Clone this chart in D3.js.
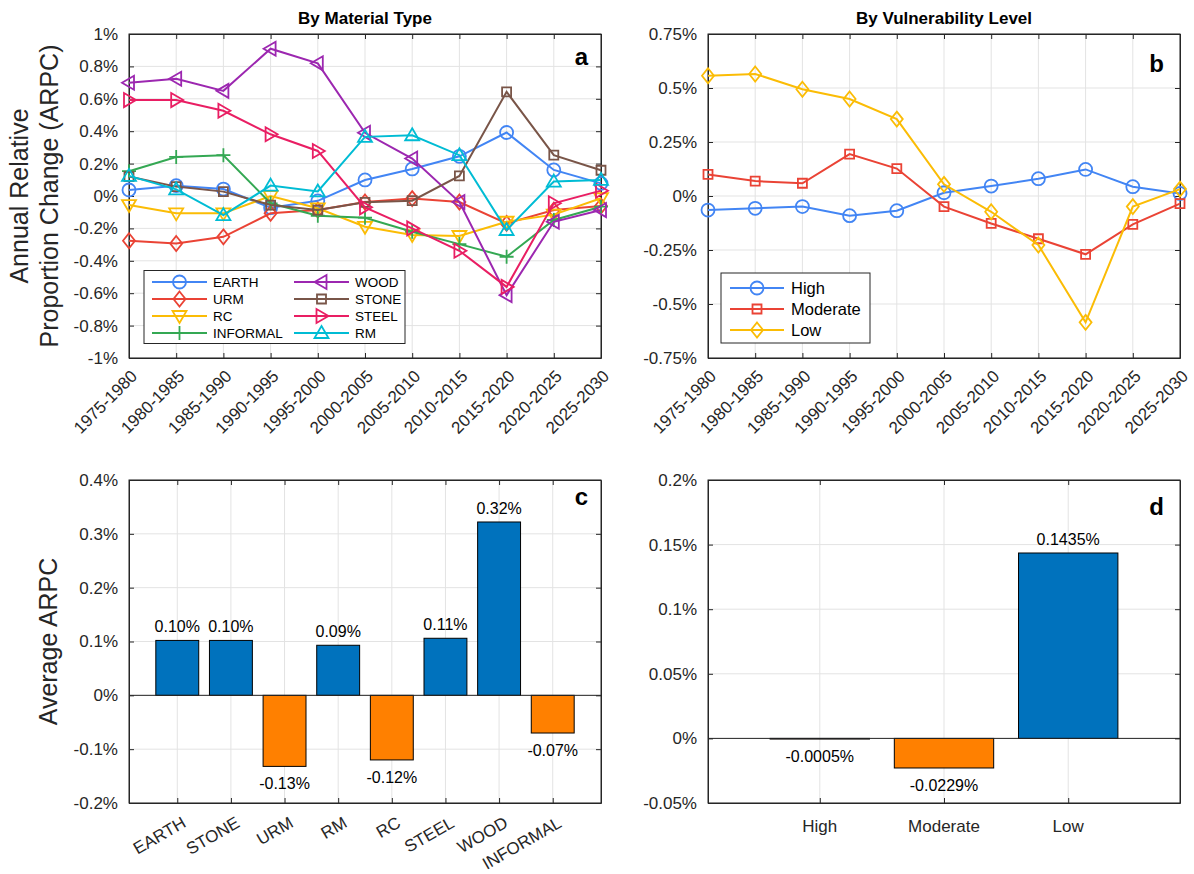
<!DOCTYPE html>
<html>
<head>
<meta charset="utf-8">
<script src="https://cdn.jsdelivr.net/npm/d3@7"></script>
<style>
  body { margin: 0; background: #fff; }
  svg { display: block; font-family: "Liberation Sans", Arial, Helvetica, sans-serif; }
</style>
</head>
<body>
<div id="chart"></div>
<script>
// ---- data (values in %) ----
const periods = ["1975-1980", "1980-1985", "1985-1990", "1990-1995", "1995-2000", "2000-2005",
  "2005-2010", "2010-2015", "2015-2020", "2020-2025", "2025-2030"];

const materialNames = ["EARTH", "URM", "RC", "INFORMAL", "WOOD", "STONE", "STEEL", "RM"];
const earth    = [0.037, 0.064, 0.043, -0.072, -0.03, 0.099, 0.167, 0.245, 0.392, 0.161, 0.078];
const urm      = [-0.276, -0.293, -0.252, -0.107, -0.087, -0.037, -0.016, -0.037, -0.169, -0.087, -0.062];
const rc       = [-0.056, -0.107, -0.107, 0.0, -0.076, -0.19, -0.241, -0.247, -0.159, -0.115, -0.014];
const informal = [0.153, 0.241, 0.252, -0.045, -0.122, -0.134, -0.221, -0.297, -0.375, -0.148, -0.066];
const wood     = [0.699, 0.724, 0.649, 0.909, 0.819, 0.39, 0.231, -0.037, -0.612, -0.159, -0.087];
const stone    = [0.12, 0.058, 0.027, -0.056, -0.087, -0.039, -0.029, 0.124, 0.643, 0.252, 0.159];
const steel    = [0.592, 0.592, 0.526, 0.381, 0.278, -0.07, -0.2, -0.338, -0.561, -0.045, 0.033];
const rm       = [0.124, 0.041, -0.118, 0.064, 0.028, 0.365, 0.375, 0.252, -0.21, 0.089, 0.099];

const vulnNames = ["High", "Moderate", "Low"];
const high     = [-0.065, -0.057, -0.049, -0.091, -0.068, 0.015, 0.046, 0.080, 0.123, 0.043, 0.012];
const moderate = [0.100, 0.069, 0.059, 0.194, 0.127, -0.049, -0.127, -0.198, -0.270, -0.131, -0.035];
const low      = [0.557, 0.565, 0.494, 0.449, 0.356, 0.054, -0.073, -0.227, -0.585, -0.049, 0.032];

const barMaterials = ["EARTH", "STONE", "URM", "RM", "RC", "STEEL", "WOOD", "INFORMAL"];
const avgMaterial  = [0.102, 0.102, -0.132, 0.093, -0.12, 0.106, 0.322, -0.07];
const avgVuln      = [-0.0005, -0.0229, 0.1435];

const ticksA = [1, 0.8, 0.6, 0.4, 0.2, 0, -0.2, -0.4, -0.6, -0.8, -1];
const ticksB = [0.75, 0.5, 0.25, 0, -0.25, -0.5, -0.75];
const ticksC = [0.4, 0.3, 0.2, 0.1, 0, -0.1, -0.2];
const ticksD = [0.2, 0.15, 0.1, 0.05, 0, -0.05];

// ---- styles ----
const materialStyle = {
  EARTH:    {color: "#4285F4", marker: "circle"},
  URM:      {color: "#EA4335", marker: "diamond"},
  RC:       {color: "#FBBC05", marker: "down"},
  INFORMAL: {color: "#34A853", marker: "plus"},
  WOOD:     {color: "#9C27B0", marker: "left"},
  STONE:    {color: "#795548", marker: "square"},
  STEEL:    {color: "#E91E63", marker: "right"},
  RM:       {color: "#00BCD4", marker: "up"}
};
const vulnStyle = {
  High:     {color: "#4285F4", marker: "circle"},
  Moderate: {color: "#EA4335", marker: "square"},
  Low:      {color: "#FBBC05", marker: "diamond"}
};
const posColor = "#0072BD", negColor = "#FF8000";
const axisColor = "#262626", gridColor = "#e3e3e3";

const svg = d3.select("#chart").append("svg")
  .attr("width", 1194)
  .attr("height", 874);

const boxA = {left: 129, right: 601, top: 34, bottom: 358};
const boxB = {left: 708, right: 1180, top: 34, bottom: 358};
const boxC = {left: 129, right: 601, top: 480, bottom: 803};
const boxD = {left: 708, right: 1180, top: 480, bottom: 803};

function markerPath(type) {
  switch (type) {
    case "circle":  return "M6.5,0A6.5,6.5 0 1,1 -6.5,0A6.5,6.5 0 1,1 6.5,0Z";
    case "square":  return "M-4.5,-4.5H4.5V4.5H-4.5Z";
    case "diamond": return "M0,-7.5L6,0L0,7.5L-6,0Z";
    case "up":      return "M0,-7L7,5L-7,5Z";
    case "down":    return "M0,7L7,-5L-7,-5Z";
    case "left":    return "M-7,0L5,-7L5,7Z";
    case "right":   return "M7,0L-5,-7L-5,7Z";
    case "plus":    return "M-7,0H7M0,-7V7";
  }
}

// plain hyphen for negatives, like the original
const fmtTick = d => `${+d.toFixed(4)}%`;

// grid lines under the data
function drawFrame(box, x, y, yTicks, xTicks) {
  const g = svg.append("g");
  g.selectAll(".hg").data(yTicks).join("line")
    .attr("x1", box.left).attr("x2", box.right)
    .attr("y1", d => y(d)).attr("y2", d => y(d))
    .attr("stroke", gridColor);
  g.selectAll(".vg").data(xTicks).join("line")
    .attr("x1", d => x(d)).attr("x2", d => x(d))
    .attr("y1", box.top).attr("y2", box.bottom)
    .attr("stroke", gridColor);
  return g;
}

// box + inward ticks on all four sides, MATLAB style
function drawAxes(box, x, y, yTicks, xTicks) {
  const g = svg.append("g");
  const w = box.right - box.left, h = box.bottom - box.top;

  g.append("g")
    .attr("transform", `translate(${box.left},0)`)
    .call(d3.axisLeft(y).tickValues(yTicks).tickFormat(fmtTick).tickSizeInner(-5).tickSizeOuter(0).tickPadding(11))
    .call(a => a.selectAll("text").attr("font-size", 17).attr("fill", axisColor).attr("font-family", null));
  g.append("g")
    .attr("transform", `translate(${box.right},0)`)
    .call(d3.axisRight(y).tickValues(yTicks).tickFormat("").tickSizeInner(-5).tickSizeOuter(0));
  g.append("g")
    .attr("transform", `translate(0,${box.bottom})`)
    .call(d3.axisBottom(x).tickValues(xTicks).tickFormat("").tickSizeInner(-5).tickSizeOuter(0));
  g.append("g")
    .attr("transform", `translate(0,${box.top})`)
    .call(d3.axisTop(x).tickValues(xTicks).tickFormat("").tickSizeInner(-5).tickSizeOuter(0));
  g.selectAll("path.domain").attr("stroke", axisColor);
  g.selectAll(".tick line").attr("stroke", axisColor);

  g.append("rect")
    .attr("x", box.left).attr("y", box.top)
    .attr("width", w).attr("height", h)
    .attr("fill", "none").attr("stroke", axisColor);
  return g;
}

function drawSeries(x, y, values, style) {
  const g = svg.append("g");
  const line = d3.line().x((d, i) => x(periods[i])).y(d => y(d));
  g.append("path")
    .attr("d", line(values))
    .attr("fill", "none")
    .attr("stroke", style.color)
    .attr("stroke-width", 2);
  g.selectAll("path.mk").data(values).join("path")
    .attr("class", "mk")
    .attr("transform", (d, i) => `translate(${x(periods[i])},${y(d)})`)
    .attr("d", markerPath(style.marker))
    .attr("fill", "none")
    .attr("stroke", style.color)
    .attr("stroke-width", 1.8);
}

function drawLegend(box, entries, opts) {
  const g = svg.append("g");
  g.append("rect")
    .attr("x", box.x).attr("y", box.y)
    .attr("width", box.w).attr("height", box.h)
    .attr("fill", "#fff").attr("stroke", axisColor);
  entries.forEach(e => {
    const st = e.style;
    g.append("line")
      .attr("x1", e.x).attr("x2", e.x + opts.lineLen)
      .attr("y1", e.y).attr("y2", e.y)
      .attr("stroke", st.color).attr("stroke-width", 2);
    g.append("path")
      .attr("transform", `translate(${e.x + opts.lineLen / 2},${e.y})`)
      .attr("d", markerPath(st.marker))
      .attr("fill", "none").attr("stroke", st.color).attr("stroke-width", 1.8);
    g.append("text")
      .attr("x", e.x + opts.lineLen + opts.gap)
      .attr("y", e.y)
      .attr("dy", "0.35em")
      .attr("font-size", opts.fontSize)
      .attr("fill", "#000")
      .text(e.name);
  });
}

function rotatedXLabels(x, labels, yPos, angle, dxOff, fontSize) {
  svg.append("g").selectAll("text").data(labels).join("text")
    .attr("transform", d => `translate(${x(d) + dxOff},${yPos}) rotate(${angle})`)
    .attr("text-anchor", "end")
    .attr("dy", "0.35em")
    .attr("font-size", fontSize)
    .attr("fill", axisColor)
    .text(d => d);
}

function panelLetter(letter, xr, yb) {
  svg.append("text")
    .attr("x", xr).attr("y", yb)
    .attr("text-anchor", "end")
    .attr("font-size", 24)
    .attr("font-weight", "bold")
    .text(letter);
}

// ---- panel a ----
const xA = d3.scalePoint().domain(periods).range([boxA.left, boxA.right]);
const yA = d3.scaleLinear().domain([-1, 1]).range([boxA.bottom, boxA.top]);
drawFrame(boxA, xA, yA, ticksA, periods);
drawAxes(boxA, xA, yA, ticksA, periods);
const materialValues = [earth, urm, rc, informal, wood, stone, steel, rm];
materialNames.forEach((m, i) => drawSeries(xA, yA, materialValues[i], materialStyle[m]));
rotatedXLabels(xA, periods, 373, -45, 5, 17);

drawLegend({x: 144, y: 270.5, w: 261, h: 73},
  materialNames.map((m, i) => ({
    name: m, style: materialStyle[m],
    x: i < 4 ? 152 : 294,
    y: 282 + (i % 4) * 17
  })),
  {lineLen: 55, gap: 6, fontSize: 13.5});

svg.append("text")
  .attr("x", (boxA.left + boxA.right) / 2).attr("y", 24)
  .attr("text-anchor", "middle").attr("font-size", 17).attr("font-weight", "bold")
  .text("By Material Type");
svg.append("text")
  .attr("transform", `translate(28,${(boxA.top + boxA.bottom) / 2}) rotate(-90)`)
  .attr("text-anchor", "middle").attr("font-size", 25).attr("fill", axisColor)
  .text("Annual Relative");
svg.append("text")
  .attr("transform", `translate(58,${(boxA.top + boxA.bottom) / 2}) rotate(-90)`)
  .attr("text-anchor", "middle").attr("font-size", 25).attr("fill", axisColor)
  .text("Proportion Change (ARPC)");
panelLetter("a", 588, 65);

// ---- panel b ----
const xB = d3.scalePoint().domain(periods).range([boxB.left, boxB.right]);
const yB = d3.scaleLinear().domain([-0.75, 0.75]).range([boxB.bottom, boxB.top]);
drawFrame(boxB, xB, yB, ticksB, periods);
drawAxes(boxB, xB, yB, ticksB, periods);
const vulnValues = [high, moderate, low];
vulnNames.forEach((v, i) => drawSeries(xB, yB, vulnValues[i], vulnStyle[v]));
rotatedXLabels(xB, periods, 373, -45, 5, 17);

drawLegend({x: 721, y: 273, w: 149, h: 70},
  vulnNames.map((v, i) => ({name: v, style: vulnStyle[v], x: 730, y: 288 + i * 21})),
  {lineLen: 54, gap: 7, fontSize: 16.5});

svg.append("text")
  .attr("x", (boxB.left + boxB.right) / 2).attr("y", 24)
  .attr("text-anchor", "middle").attr("font-size", 17).attr("font-weight", "bold")
  .text("By Vulnerability Level");
panelLetter("b", 1164, 72);

// ---- bar panels ----
function drawBars(box, names, values, y, yTicks, digits, fontSize) {
  const x = d3.scalePoint().domain(names).range([box.left, box.right]).padding(0.9);
  const bw = x.step() * 0.8;
  drawFrame(box, x, y, yTicks, names);

  const g = svg.append("g");
  g.selectAll("rect").data(values).join("rect")
    .attr("x", (d, i) => x(names[i]) - bw / 2)
    .attr("y", d => y(Math.max(0, d)))
    .attr("width", bw)
    .attr("height", d => Math.abs(y(d) - y(0)))
    .attr("fill", d => d >= 0 ? posColor : negColor)
    .attr("stroke", "#000")
    .attr("stroke-width", 1);

  g.selectAll("text").data(values).join("text")
    .attr("x", (d, i) => x(names[i]))
    .attr("y", d => d >= 0 ? y(d) - 14 : y(d) + 17)
    .attr("dy", "0.35em")
    .attr("text-anchor", "middle")
    .attr("font-size", fontSize)
    .attr("fill", "#000")
    .text(d => d.toFixed(digits) + "%");

  drawAxes(box, x, y, yTicks, names);
  // zero baseline
  svg.append("line")
    .attr("x1", box.left).attr("x2", box.right)
    .attr("y1", y(0)).attr("y2", y(0))
    .attr("stroke", axisColor);
  return x;
}

const yC = d3.scaleLinear().domain([-0.2, 0.4]).range([boxC.bottom, boxC.top]);
const xC = drawBars(boxC, barMaterials, avgMaterial, yC, ticksC, 2, 16);
rotatedXLabels(xC, barMaterials, 821, -30, 7, 17);
svg.append("text")
  .attr("transform", `translate(57,${(boxC.top + boxC.bottom) / 2}) rotate(-90)`)
  .attr("text-anchor", "middle").attr("font-size", 25).attr("fill", axisColor)
  .text("Average ARPC");
panelLetter("c", 588, 505);

const yD = d3.scaleLinear().domain([-0.05, 0.2]).range([boxD.bottom, boxD.top]);
const xD = drawBars(boxD, vulnNames, avgVuln, yD, ticksD, 4, 16);
svg.append("g").selectAll("text").data(vulnNames).join("text")
  .attr("x", d => xD(d)).attr("y", 826)
  .attr("dy", "0.35em")
  .attr("text-anchor", "middle")
  .attr("font-size", 17)
  .attr("fill", axisColor)
  .text(d => d);
panelLetter("d", 1164, 515);
</script>
</body>
</html>
